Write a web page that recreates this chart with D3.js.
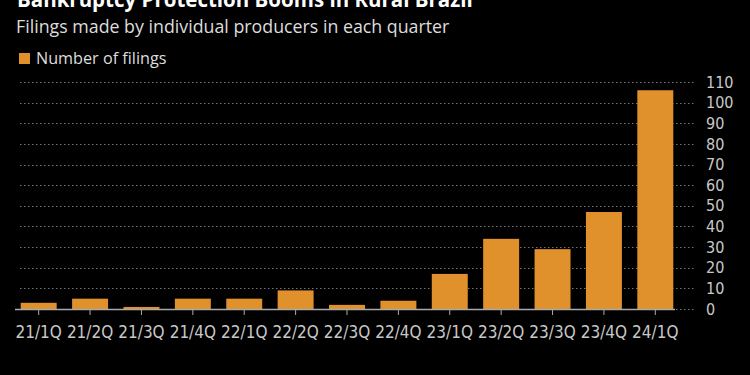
<!DOCTYPE html>
<html>
<head>
<meta charset="utf-8">
<script src="https://cdn.jsdelivr.net/npm/d3@7"></script>
<style>
  html, body { margin: 0; padding: 0; background: #000; }
  svg { display: block; font-family: "Open Sans", sans-serif; }
</style>
</head>
<body>
<script>
const quarters = ['21/1Q', '21/2Q', '21/3Q', '21/4Q', '22/1Q', '22/2Q', '22/3Q',
  '22/4Q', '23/1Q', '23/2Q', '23/3Q', '23/4Q', '24/1Q'];
const filings = [3, 5, 1, 5, 5, 9, 2, 4, 17, 34, 29, 47, 106];
const yTicks = [0, 10, 20, 30, 40, 50, 60, 70, 80, 90, 100, 110];

const data = quarters.map((q, i) => ({ quarter: q, value: filings[i] }));

const width = 750;
const height = 375;
const orange = '#e0912b';
const grey = '#c8c8c8';
const tickFont = '"DejaVu Sans Condensed", "Liberation Sans Narrow", sans-serif';

const svg = d3.select('body')
  .append('svg')
  .attr('width', width)
  .attr('height', height)
  .attr('viewBox', [0, 0, width, height]);

svg.append('rect').attr('width', width).attr('height', height).attr('fill', '#000');

// header (title is cut off at the top, as in the source)
svg.append('text')
  .attr('x', 17)
  .attr('y', 7)
  .attr('fill', '#fff')
  .attr('font-weight', 700)
  .attr('font-size', 20.5)
  .text('Bankruptcy Protection Booms in Rural Brazil');

svg.append('text')
  .attr('x', 16)
  .attr('y', 33)
  .attr('fill', '#ddd')
  .attr('font-size', 17.8)
  .text('Filings made by individual producers in each quarter');

const legend = svg.append('g').attr('transform', 'translate(19 53)');
legend.append('rect').attr('width', 11).attr('height', 11).attr('fill', orange);
legend.append('text')
  .attr('x', 17)
  .attr('y', 11)
  .attr('fill', '#ddd')
  .attr('font-size', 16.2)
  .text('Number of filings');

const x = d3.scaleBand()
  .domain(quarters)
  .range([13, 681])
  .paddingInner(0.3)
  .paddingOuter(0.15);

const y = d3.scaleLinear()
  .domain([0, 110])
  .range([309, 82]);

// dotted gridlines
svg.append('g')
  .selectAll('line')
  .data(yTicks)
  .join('line')
  .attr('x1', 20)
  .attr('x2', 696)
  .attr('y1', d => Math.round(y(d)) + 0.5)
  .attr('y2', d => Math.round(y(d)) + 0.5)
  .attr('stroke', '#777')
  .attr('stroke-width', 1.2)
  .attr('stroke-dasharray', '1.5 2.5');

// bars
svg.append('g')
  .selectAll('rect')
  .data(data)
  .join('rect')
  .attr('x', d => x(d.quarter))
  .attr('y', d => y(d.value))
  .attr('width', x.bandwidth())
  .attr('height', d => y(0) - y(d.value))
  .attr('fill', orange);

// x axis
const xAxis = d3.axisBottom(x).tickSize(6).tickPadding(11);
const xg = svg.append('g')
  .attr('transform', `translate(0 ${y(0)})`)
  .call(xAxis);
xg.select('.domain')
  .attr('d', 'M15 0.5 H675')
  .attr('stroke', '#aaa')
  .attr('stroke-width', 1.5);
xg.selectAll('.tick line').attr('stroke', '#aaa');
xg.selectAll('.tick text')
  .attr('fill', grey)
  .attr('font-size', 17)
  .attr('font-family', tickFont);

// y axis on the right
const yAxis = d3.axisRight(y).tickValues(yTicks).tickSize(0).tickPadding(0);
const yg = svg.append('g')
  .attr('transform', 'translate(706 0)')
  .call(yAxis);
yg.select('.domain').remove();
yg.selectAll('.tick text')
  .attr('fill', grey)
  .attr('font-size', 16)
  .attr('font-family', tickFont);
</script>
</body>
</html>
